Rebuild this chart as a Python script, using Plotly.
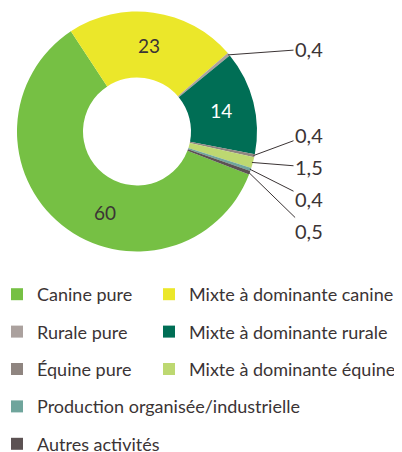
import math
import plotly.graph_objects as go

# ---- data ----
labels = ["Canine pure", "Mixte à dominante canine", "Rurale pure",
          "Mixte à dominante rurale", "Équine pure", "Mixte à dominante équine",
          "Production organisée/industrielle", "Autres activités"]
values = [60, 23, 0.4, 14, 0.4, 1.5, 0.4, 0.5]
value_text = ["60", "23", "0,4", "14", "0,4", "1,5", "0,4", "0,5"]
colors = ["#76c044", "#ebe72a", "#aba19e", "#006e55", "#8f8580", "#bdd871",
          "#6fa59c", "#5c5253"]
left_col = [0, 2, 4, 6, 7]
right_col = [1, 3, 5]
outside_idx = [2, 4, 5, 6, 7]
outside_label_y = [49, 135, 167, 199, 231]

# ---- layout constants (screen pixels; the page body adds an 8px offset) ----
SW, SH = 402, 452          # screenshot size
OFF = 8                    # page body margin
W, H = SW - OFF, SH - OFF  # figure size
CX, CY, R = 137, 131.5, 120
ROT = 111
FONT = "Lato"
TXT = "#3b3435"
BIG_LABEL_POS = {0: (105, 212)}  # label placed by hand for the largest slice


def px(xs):
    return (xs - OFF) / W


def py(ys):
    return 1 - (ys - OFF) / H


inside_text = [t if (i not in outside_idx and i not in BIG_LABEL_POS) else ""
               for i, t in enumerate(value_text)]
inside_colors = ["#ffffff" if i == 3 else TXT for i in range(len(values))]

fig = go.Figure()
fig.add_trace(go.Pie(
    labels=labels, values=values, text=inside_text,
    textinfo="text", textposition="inside", insidetextorientation="horizontal",
    insidetextfont=dict(family=FONT, size=19, color=inside_colors),
    marker=dict(colors=colors, line=dict(width=0)),
    hole=0.45, sort=False, direction="clockwise", rotation=ROT,
    showlegend=False, hoverinfo="label+value",
    domain=dict(x=[px(CX - R), px(CX + R)], y=[py(CY + R), py(CY - R)]),
))

# legend entries (two columns)
for col, leg in ((left_col, "legend"), (right_col, "legend2")):
    for i in col:
        fig.add_trace(go.Scatter(
            x=[None], y=[None], mode="markers", name=labels[i],
            marker=dict(symbol="square", size=12, color=colors[i], line=dict(width=0)),
            legend=leg, legendgroup=labels[i], showlegend=True, hoverinfo="skip",
        ))

# outside labels with leader lines, tip at slice mid-angle
total = sum(values)
cum = 0.0
mids = []
for v in values:
    mids.append(ROT + (cum + v / 2) / total * 360)
    cum += v
annotations = []
for k, i in enumerate(outside_idx):
    a = math.radians(mids[i])
    tx = CX + (R - 1) * math.sin(a)
    ty = CY - (R - 1) * math.cos(a)
    annotations.append(dict(
        x=tx, y=ty, xref="x", yref="y", ax=309, ay=outside_label_y[k], axref="x", ayref="y",
        text=value_text[i], showarrow=True, arrowhead=0, arrowwidth=1, arrowcolor="#3b3435",
        font=dict(family=FONT, size=20, color=TXT), standoff=0, startstandoff=0,
    ))
for i, (lx, ly) in BIG_LABEL_POS.items():
    annotations.append(dict(x=lx, y=ly, xref="x", yref="y", text=value_text[i],
                            showarrow=False, font=dict(family=FONT, size=19, color=TXT)))

legend_common = dict(orientation="v", xanchor="left", yanchor="top", tracegroupgap=11,
                     font=dict(family=FONT, size=18, color=TXT), indentation=-11,
                     bgcolor="rgba(0,0,0,0)", borderwidth=0, itemclick=False)
fig.update_layout(
    width=W, height=H, margin=dict(l=0, r=0, t=0, b=0, autoexpand=False),
    paper_bgcolor="white", plot_bgcolor="white",
    xaxis=dict(range=[OFF, SW], visible=False, fixedrange=True, domain=[0, 1]),
    yaxis=dict(range=[SH, OFF], visible=False, fixedrange=True, domain=[0, 1]),
    legend=dict(x=0, y=py(276), **legend_common),
    legend2=dict(x=px(160), y=py(276), **legend_common),
    annotations=annotations,
    font=dict(family=FONT, color=TXT),
)
fig.write_html("out.html")
